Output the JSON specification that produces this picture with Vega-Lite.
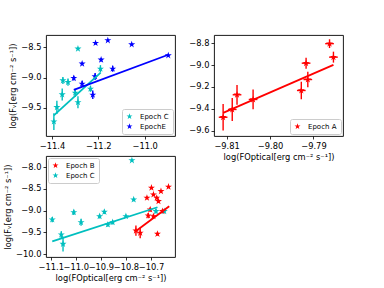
{
  "$schema": "https://vega.github.io/schema/vega-lite/v6.json",
  "padding": {"left": 3, "top": 34, "right": 0, "bottom": 0},
  "background": "white",
  "datasets": {
    "tl": [
      {"x": -11.392, "y": -9.733, "ex": 0.004, "ey": 0.14, "epoch": "Epoch C"},
      {"x": -11.379, "y": -9.495, "ex": 0.004, "ey": 0.11, "epoch": "Epoch C"},
      {"x": -11.356, "y": -9.283, "ex": 0.004, "ey": 0.1, "epoch": "Epoch C"},
      {"x": -11.353, "y": -9.05, "ex": 0.004, "ey": 0.06, "epoch": "Epoch C"},
      {"x": -11.331, "y": -9.078, "ex": 0.004, "ey": 0.06, "epoch": "Epoch C"},
      {"x": -11.288, "y": -8.522, "ex": 0.003, "ey": 0.02, "epoch": "Epoch C"},
      {"x": -11.3, "y": -9.255, "ex": 0.004, "ey": 0.07, "epoch": "Epoch C"},
      {"x": -11.288, "y": -9.412, "ex": 0.004, "ey": 0.1, "epoch": "Epoch C"},
      {"x": -11.234, "y": -9.188, "ex": 0.004, "ey": 0.05, "epoch": "Epoch C"},
      {"x": -11.191, "y": -8.855, "ex": 0.004, "ey": 0.06, "epoch": "Epoch C"},
      {"x": -11.306, "y": -9.011, "ex": 0.003, "ey": 0.04, "epoch": "EpochE"},
      {"x": -11.27, "y": -8.771, "ex": 0.003, "ey": 0.02, "epoch": "EpochE"},
      {"x": -11.27, "y": -9.105, "ex": 0.004, "ey": 0.05, "epoch": "EpochE"},
      {"x": -11.224, "y": -9.288, "ex": 0.004, "ey": 0.07, "epoch": "EpochE"},
      {"x": -11.214, "y": -8.983, "ex": 0.004, "ey": 0.06, "epoch": "EpochE"},
      {"x": -11.212, "y": -8.428, "ex": 0.003, "ey": 0.02, "epoch": "EpochE"},
      {"x": -11.188, "y": -8.705, "ex": 0.003, "ey": 0.03, "epoch": "EpochE"},
      {"x": -11.159, "y": -8.383, "ex": 0.003, "ey": 0.02, "epoch": "EpochE"},
      {"x": -11.138, "y": -8.855, "ex": 0.004, "ey": 0.05, "epoch": "EpochE"},
      {"x": -11.056, "y": -8.45, "ex": 0.003, "ey": 0.02, "epoch": "EpochE"},
      {"x": -10.898, "y": -8.633, "ex": 0.003, "ey": 0.02, "epoch": "EpochE"}
    ],
    "tl_fit": [
      {"x": -11.392, "y": -9.63, "epoch": "Epoch C"},
      {"x": -11.19, "y": -8.92, "epoch": "Epoch C"},
      {"x": -11.306, "y": -9.205, "epoch": "EpochE"},
      {"x": -10.898, "y": -8.622, "epoch": "EpochE"}
    ],
    "tr": [
      {"x": -9.8108, "y": -9.476, "ex": 0.001, "ey": 0.12, "epoch": "Epoch A"},
      {"x": -9.8087, "y": -9.405, "ex": 0.001, "ey": 0.105, "epoch": "Epoch A"},
      {"x": -9.8076, "y": -9.271, "ex": 0.001, "ey": 0.09, "epoch": "Epoch A"},
      {"x": -9.8039, "y": -9.314, "ex": 0.001, "ey": 0.09, "epoch": "Epoch A"},
      {"x": -9.7928, "y": -9.232, "ex": 0.001, "ey": 0.08, "epoch": "Epoch A"},
      {"x": -9.7917, "y": -8.983, "ex": 0.001, "ey": 0.05, "epoch": "Epoch A"},
      {"x": -9.7913, "y": -9.132, "ex": 0.001, "ey": 0.07, "epoch": "Epoch A"},
      {"x": -9.7863, "y": -8.805, "ex": 0.001, "ey": 0.04, "epoch": "Epoch A"},
      {"x": -9.7854, "y": -8.928, "ex": 0.001, "ey": 0.05, "epoch": "Epoch A"}
    ],
    "tr_fit": [
      {"x": -9.8108, "y": -9.436, "epoch": "Epoch A"},
      {"x": -9.7854, "y": -8.998, "epoch": "Epoch A"}
    ],
    "bl": [
      {"x": -11.094, "y": -9.208, "ex": 0.004, "ey": 0.06, "epoch": "Epoch C"},
      {"x": -11.058, "y": -9.555, "ex": 0.004, "ey": 0.08, "epoch": "Epoch C"},
      {"x": -11.051, "y": -9.77, "ex": 0.006, "ey": 0.17, "epoch": "Epoch C"},
      {"x": -11.008, "y": -9.04, "ex": 0.004, "ey": 0.06, "epoch": "Epoch C"},
      {"x": -10.979, "y": -9.27, "ex": 0.004, "ey": 0.08, "epoch": "Epoch C"},
      {"x": -10.905, "y": -9.132, "ex": 0.004, "ey": 0.05, "epoch": "Epoch C"},
      {"x": -10.886, "y": -9.031, "ex": 0.004, "ey": 0.05, "epoch": "Epoch C"},
      {"x": -10.872, "y": -9.323, "ex": 0.004, "ey": 0.05, "epoch": "Epoch C"},
      {"x": -10.853, "y": -9.27, "ex": 0.004, "ey": 0.05, "epoch": "Epoch C"},
      {"x": -10.8, "y": -9.132, "ex": 0.004, "ey": 0.04, "epoch": "Epoch C"},
      {"x": -10.776, "y": -7.846, "ex": 0.003, "ey": 0.03, "epoch": "Epoch C"},
      {"x": -10.769, "y": -8.746, "ex": 0.004, "ey": 0.04, "epoch": "Epoch C"},
      {"x": -10.68, "y": -9.016, "ex": 0.004, "ey": 0.05, "epoch": "Epoch C"},
      {"x": -10.647, "y": -9.016, "ex": 0.004, "ey": 0.04, "epoch": "Epoch C"},
      {"x": -10.76, "y": -9.462, "ex": 0.008, "ey": 0.12, "epoch": "Epoch B"},
      {"x": -10.743, "y": -9.515, "ex": 0.006, "ey": 0.12, "epoch": "Epoch B"},
      {"x": -10.716, "y": -8.707, "ex": 0.003, "ey": 0.03, "epoch": "Epoch B"},
      {"x": -10.711, "y": -9.116, "ex": 0.004, "ey": 0.06, "epoch": "Epoch B"},
      {"x": -10.703, "y": -8.977, "ex": 0.004, "ey": 0.05, "epoch": "Epoch B"},
      {"x": -10.698, "y": -8.476, "ex": 0.003, "ey": 0.03, "epoch": "Epoch B"},
      {"x": -10.69, "y": -8.631, "ex": 0.003, "ey": 0.03, "epoch": "Epoch B"},
      {"x": -10.69, "y": -9.132, "ex": 0.004, "ey": 0.05, "epoch": "Epoch B"},
      {"x": -10.677, "y": -8.707, "ex": 0.003, "ey": 0.03, "epoch": "Epoch B"},
      {"x": -10.67, "y": -8.785, "ex": 0.003, "ey": 0.04, "epoch": "Epoch B"},
      {"x": -10.674, "y": -9.538, "ex": 0.003, "ey": 0.04, "epoch": "Epoch B"},
      {"x": -10.66, "y": -8.555, "ex": 0.003, "ey": 0.03, "epoch": "Epoch B"},
      {"x": -10.654, "y": -9.016, "ex": 0.003, "ey": 0.04, "epoch": "Epoch B"},
      {"x": -10.63, "y": -8.453, "ex": 0.003, "ey": 0.03, "epoch": "Epoch B"}
    ],
    "bl_fit": [
      {"x": -11.094, "y": -9.71, "epoch": "Epoch C"},
      {"x": -10.674, "y": -8.924, "epoch": "Epoch C"},
      {"x": -10.761, "y": -9.478, "epoch": "Epoch B"},
      {"x": -10.627, "y": -8.899, "epoch": "Epoch B"}
    ]
  },
  "columns": 2,
  "spacing": {"row": 20, "column": 39},
  "bounds": "flush",
  "resolve": {
    "scale": {"x": "independent", "y": "independent", "color": "independent"},
    "axis": {"x": "independent", "y": "independent"},
    "legend": {"color": "independent"}
  },
  "concat": [
    {
      "width": 129, "height": 101,
      "data": {"name": "tl"},
      "encoding": {
        "x": {"field": "x", "type": "quantitative", "scale": {"domain": [-11.426, -10.869], "nice": false, "zero": false}, "axis": {"values": [-11.4, -11.2, -11.0], "format": ".1f", "title": null}},
        "y": {"field": "y", "type": "quantitative", "scale": {"domain": [-9.973, -8.293], "nice": false, "zero": false}, "axis": {"values": [-9.5, -9.0, -8.5], "format": ".1f", "title": "log(Fᵥ[erg cm⁻² s⁻¹])"}},
        "color": {"field": "epoch", "type": "nominal", "scale": {"domain": ["Epoch C", "EpochE"], "range": ["#00bfbf", "#0000ff"]},
          "legend": {"orient": "bottom-right", "title": null, "offset": 2, "symbolType": "M0,-1L0.2245,-0.309L0.951,-0.309L0.363,0.118L0.588,0.809L0,0.382L-0.588,0.809L-0.363,0.118L-0.951,-0.309L-0.2245,-0.309Z"}}
      },
      "layer": [
        {"mark": {"type": "point", "shape": "M0,-1L0.2245,-0.309L0.951,-0.309L0.363,0.118L0.588,0.809L0,0.382L-0.588,0.809L-0.363,0.118L-0.951,-0.309L-0.2245,-0.309Z", "filled": true, "size": 55, "opacity": 1}},
        {"mark": {"type": "errorbar", "thickness": 1.4}, "encoding": {"yError": {"field": "ey"}}},
        {"mark": {"type": "errorbar", "thickness": 1.4}, "encoding": {"xError": {"field": "ex"}}},
        {"data": {"name": "tl_fit"}, "mark": {"type": "line", "strokeWidth": 1.8}}
      ]
    },
    {
      "width": 129, "height": 101,
      "data": {"name": "tr"},
      "encoding": {
        "x": {"field": "x", "type": "quantitative", "scale": {"domain": [-9.8129, -9.7832], "nice": false, "zero": false}, "axis": {"values": [-9.81, -9.8, -9.79], "format": ".2f", "title": "log(FOptical[erg cm⁻² s⁻¹])"}},
        "y": {"field": "y", "type": "quantitative", "scale": {"domain": [-9.647, -8.726], "nice": false, "zero": false}, "axis": {"values": [-9.6, -9.4, -9.2, -9.0, -8.8], "format": ".1f", "title": null}},
        "color": {"field": "epoch", "type": "nominal", "scale": {"domain": ["Epoch A"], "range": ["#ff0000"]},
          "legend": {"orient": "bottom-right", "title": null, "offset": 2, "symbolType": "M0,-1L0.2245,-0.309L0.951,-0.309L0.363,0.118L0.588,0.809L0,0.382L-0.588,0.809L-0.363,0.118L-0.951,-0.309L-0.2245,-0.309Z"}}
      },
      "layer": [
        {"mark": {"type": "point", "shape": "M0,-1L0.2245,-0.309L0.951,-0.309L0.363,0.118L0.588,0.809L0,0.382L-0.588,0.809L-0.363,0.118L-0.951,-0.309L-0.2245,-0.309Z", "filled": true, "size": 55, "opacity": 1}},
        {"mark": {"type": "errorbar", "thickness": 1.4}, "encoding": {"yError": {"field": "ey"}}},
        {"mark": {"type": "errorbar", "thickness": 1.4}, "encoding": {"xError": {"field": "ex"}}},
        {"data": {"name": "tr_fit"}, "mark": {"type": "line", "strokeWidth": 1.8}}
      ]
    },
    {
      "width": 129, "height": 101,
      "data": {"name": "bl"},
      "encoding": {
        "x": {"field": "x", "type": "quantitative", "scale": {"domain": [-11.119, -10.604], "nice": false, "zero": false}, "axis": {"values": [-11.1, -11.0, -10.9, -10.8, -10.7], "format": ".1f", "title": "log(FOptical[erg cm⁻² s⁻¹])"}},
        "y": {"field": "y", "type": "quantitative", "scale": {"domain": [-10.069, -7.744], "nice": false, "zero": false}, "axis": {"values": [-10.0, -9.5, -9.0, -8.5, -8.0], "format": ".1f", "title": "log(Fᵥ[erg cm⁻² s⁻¹])"}},
        "color": {"field": "epoch", "type": "nominal", "scale": {"domain": ["Epoch B", "Epoch C"], "range": ["#ff0000", "#00bfbf"]},
          "legend": {"orient": "top-left", "title": null, "offset": 2, "symbolType": "M0,-1L0.2245,-0.309L0.951,-0.309L0.363,0.118L0.588,0.809L0,0.382L-0.588,0.809L-0.363,0.118L-0.951,-0.309L-0.2245,-0.309Z"}}
      },
      "layer": [
        {"mark": {"type": "point", "shape": "M0,-1L0.2245,-0.309L0.951,-0.309L0.363,0.118L0.588,0.809L0,0.382L-0.588,0.809L-0.363,0.118L-0.951,-0.309L-0.2245,-0.309Z", "filled": true, "size": 55, "opacity": 1}},
        {"mark": {"type": "errorbar", "thickness": 1.4}, "encoding": {"yError": {"field": "ey"}}},
        {"mark": {"type": "errorbar", "thickness": 1.4}, "encoding": {"xError": {"field": "ex"}}},
        {"data": {"name": "bl_fit"}, "mark": {"type": "line", "strokeWidth": 1.8}}
      ]
    }
  ],
  "config": {
    "font": "DejaVu Sans",
    "view": {"stroke": "#000000", "strokeWidth": 0.9},
    "axis": {"grid": false, "domain": false, "tickColor": "#000000", "tickSize": 3, "tickWidth": 0.8, "labelFont": "DejaVu Sans", "labelFontSize": 8.3, "labelColor": "#000000", "labelPadding": 2, "labelFlush": false, "labelOverlap": false, "titleFont": "DejaVu Sans", "titleFontSize": 8.3, "titleFontWeight": "normal", "titleColor": "#000000", "titlePadding": 3},
    "legend": {"padding": 4, "strokeColor": "#cccccc", "fillColor": "rgba(255,255,255,0.8)", "cornerRadius": 2, "labelFont": "DejaVu Sans", "labelFontSize": 7, "labelColor": "#000000", "symbolSize": 40, "symbolStrokeWidth": 0, "rowPadding": 2, "labelOffset": 7}
  }
}
